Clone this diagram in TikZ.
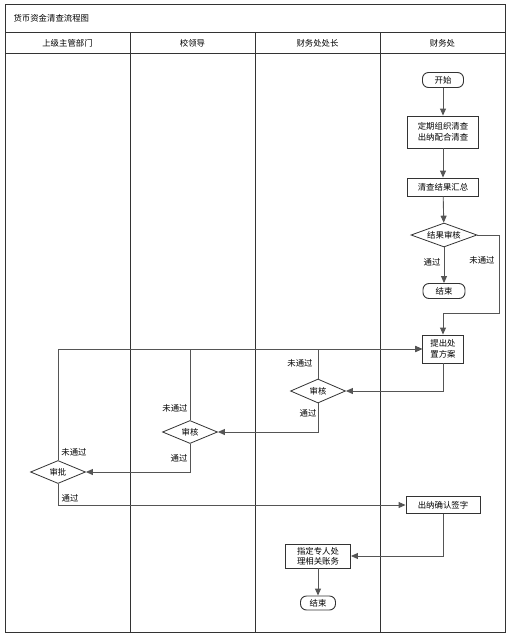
\documentclass[tikz,border=0pt]{standalone}
\usepackage{fontspec}
\setmainfont{Noto Sans CJK SC}
\usepackage{xcolor}
\usetikzlibrary{shapes.geometric,arrows.meta}
\definecolor{frameline}{HTML}{333333}
\definecolor{flowline}{HTML}{555555}
\definecolor{boxline}{HTML}{333333}

\begin{document}
\begin{tikzpicture}[x=1pt, y=-1pt,
  frame/.style={draw=frameline, line width=1pt},
  proc/.style={draw=boxline, line width=0.9pt, fill=white, align=center, inner sep=1pt, font=\fontsize{8.4}{11}\selectfont},
  term/.style={proc, rounded corners=6pt, minimum width=36pt, minimum height=15pt},
  decide/.style={draw=boxline, line width=0.8pt, fill=white, diamond, shape aspect=2.75, inner sep=0pt, font=\fontsize{8.4}{10}\selectfont},
  arrow/.style={-{Triangle[length=7pt, width=6pt]}, draw=flowline, line width=0.9pt},
  lbl/.style={font=\fontsize{8.4}{10}\selectfont, inner sep=0pt},
  head/.style={font=\fontsize{8.4}{10}\selectfont},
]
\useasboundingbox (0,0) rectangle (510,638);
\draw[frame] (5,4) rectangle (505,632);
\draw[frame] (5,32) -- (505,32);
\draw[frame] (5,53) -- (505,53);
\foreach \x in {130,255,380} \draw[frame] (\x,32) -- (\x,632);
\node[head, anchor=west] (title) at (10,18) {货币资金清查流程图};
\node[head] (h1) at (67.5,43) {上级主管部门};
\node[head] (h2) at (192.5,43) {校领导};
\node[head] (h3) at (317.5,43) {财务处处长};
\node[head] (h4) at (442.5,43) {财务处};

\node[term, minimum width=41pt] (start) at (443,80) {开始};
\node[proc, minimum width=71pt, minimum height=32pt] (zuzhi) at (443,132) {定期组织清查\\出纳配合清查};
\node[proc, minimum width=71pt, minimum height=18pt] (huizong) at (443,187) {清查结果汇总};
\node[decide, minimum width=66pt, minimum height=24pt] (jieguo) at (444,235) {结果审核};
\node[term, minimum width=42pt] (end1) at (444,291) {结束};
\node[proc, minimum width=41pt, minimum height=28pt] (tichu) at (443,349) {提出处\\置方案};
\node[decide, minimum width=55pt, minimum height=24pt] (shenhe1) at (318,391) {审核};
\node[decide, minimum width=55pt, minimum height=23pt] (shenhe2) at (190,432) {审核};
\node[decide, minimum width=55pt, minimum height=23pt] (shenpi) at (58,472) {审批};
\node[proc, minimum width=74pt, minimum height=17pt] (queren) at (443,505) {出纳确认签字};
\node[proc, minimum width=65pt, minimum height=24pt, font=\fontsize{8.4}{10}\selectfont] (zhiding) at (318,556) {指定专人处\\理相关账务};
\node[term, minimum width=35pt, minimum height=14pt] (end2) at (318,603) {结束};
\coordinate (bend) at (499,313);

\draw[arrow] (start) -- (zuzhi);
\draw[arrow] (zuzhi) -- (huizong);
\draw[arrow] (huizong) -- (jieguo);
\draw[arrow] (jieguo) -- (end1);
\draw[arrow] (jieguo.east) -| (bend) -| (tichu.north);
\draw[arrow] (tichu.south) |- (shenhe1.east);
\draw[arrow] (shenhe1.south) |- (shenhe2.east);
\draw[arrow] (shenhe2.south) |- (shenpi.east);
\draw[arrow] (shenpi.south) |- (queren.west);
\draw[arrow] (queren.south) |- (zhiding.east);
\draw[arrow] (zhiding) -- (end2);
\draw[arrow] (shenpi.north) |- (tichu.west);
\draw[arrow] (shenhe2.north) |- (tichu.west);
\draw[arrow] (shenhe1.north) |- (tichu.west);

\node[lbl] (jgpass) at (432,262) {通过};
\node[lbl] (jgfail) at (482,260) {未通过};
\node[lbl] (sh1fail) at (300,363) {未通过};
\node[lbl] (sh1pass) at (308,413) {通过};
\node[lbl] (sh2fail) at (175,408) {未通过};
\node[lbl] (sh2pass) at (179,458) {通过};
\node[lbl] (spfail) at (74,452) {未通过};
\node[lbl] (sppass) at (70,498) {通过};
\end{tikzpicture}
\end{document}
